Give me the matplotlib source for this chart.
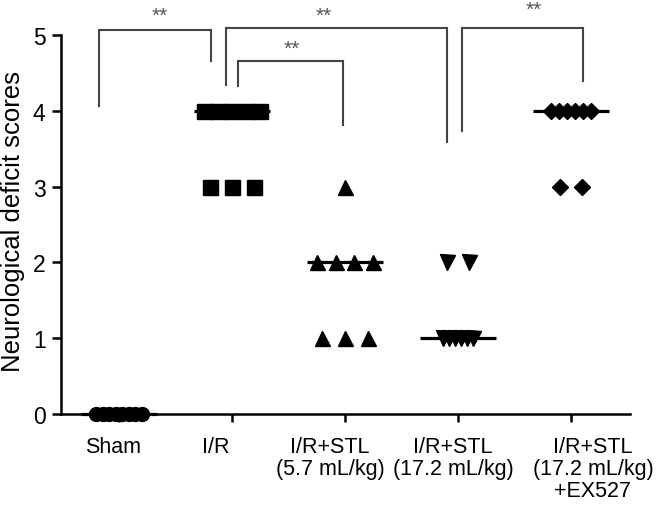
"""
Neurological deficit scores per treatment group, scatter with median bars
and significance brackets.
"""

import matplotlib

matplotlib.use("Agg")
import matplotlib.pyplot as plt
import matplotlib.transforms as mtransforms
import numpy as np

plt.rcParams["font.family"] = ["Liberation Sans", "DejaVu Sans"]

# ---- data (scores, n = 8 per group) ----
groups = [
    "Sham",
    "I/R",
    "I/R+STL\n(5.7 mL/kg)",
    "I/R+STL\n(17.2 mL/kg)",
    "I/R+STL\n(17.2 mL/kg)\n+EX527",
]
sham = [0, 0, 0, 0, 0, 0, 0, 0]
ir = [4, 4, 4, 4, 4, 3, 3, 3]
stl_low = [3, 2, 2, 2, 2, 1, 1, 1]
stl_high = [2, 2, 1, 1, 1, 1, 1, 1]
stl_high_ex527 = [4, 4, 4, 4, 4, 4, 3, 3]
scores = [sham, ir, stl_low, stl_high, stl_high_ex527]

# significance comparisons: (group a, group b, label)
comparisons = [(0, 1, "**"), (1, 3, "**"), (1, 2, "**"), (3, 4, "**")]

# ---- style / layout ----
markers = ["o", "s", "^", "v", "D"]
marker_sizes = [10.0, 10.8, 10.8, 10.8, 8.2]
# horizontal spread of tied points, in data units, per (group, score)
spread = {
    (0, 0): 0.40,
    (1, 4): 0.49, (1, 3): 0.39,
    (2, 2): 0.50, (2, 1): 0.40,
    (3, 2): 0.20, (3, 1): 0.27,
    (4, 4): 0.36, (4, 3): 0.19,
}
# bracket geometry: x of left/right legs, top y, bottom of each leg, star position
brackets = [
    (-0.18, 0.81, 5.07, 4.06, 4.66, 0.36, 5.26),
    (0.95, 2.90, 5.09, 4.34, 3.59, 1.81, 5.26),
    (1.05, 1.98, 4.66, 4.33, 3.81, 1.53, 4.83),
    (3.04, 4.11, 5.09, 3.74, 4.39, 3.67, 5.34),
]
label_shift_px = [-6, -16, -15, -5, 22]
median_half = 0.34

fig = plt.figure(figsize=(6.61, 5.10), dpi=100)
ax = fig.add_axes([0.093, 0.1863, 0.860, 0.7431])

for i, vals in enumerate(scores):
    vals = np.asarray(vals)
    xs = np.empty(len(vals))
    for level in np.unique(vals):
        idx = np.where(vals == level)[0]
        k = len(idx)
        w = spread.get((i, level), 0.0) if k > 1 else 0.0
        xs[idx] = i + np.linspace(-w / 2, w / 2, k)
    med = np.median(vals)
    ax.plot([i - median_half, i + median_half], [med, med], color="black",
            lw=2.3, solid_capstyle="butt", zorder=3, clip_on=False)
    ax.plot(xs, vals, linestyle="none", marker=markers[i],
            markersize=marker_sizes[i], color="black", mec="black",
            zorder=4, clip_on=False)

for (xl, xr, top, yl, yr, sx, sy), (_, _, text) in zip(brackets, comparisons):
    ax.plot([xl, xl, xr, xr], [yl, top, top, yr], color="#444444", lw=1.5,
            clip_on=False, zorder=2, solid_joinstyle="miter")
    ax.text(sx, sy, text, ha="center", va="center", fontsize=15,
            color="#555555", clip_on=False)

ax.set_xlim(-0.509, 4.522)
ax.set_ylim(0, 5)
ax.set_yticks(range(6))
ax.set_xticks(range(len(groups)))
ax.set_xticklabels(groups, fontsize=15.5, linespacing=1.05)
ax.tick_params(axis="y", labelsize=16.5, length=6.5, width=1.8, pad=5)
ax.tick_params(axis="x", length=6, width=1.8, pad=10)
for lab, dx in zip(ax.get_xticklabels(), label_shift_px):
    lab.set_transform(lab.get_transform()
                      + mtransforms.ScaledTranslation(dx / 100, 0, fig.dpi_scale_trans))

for side in ("top", "right"):
    ax.spines[side].set_visible(False)
for side in ("left", "bottom"):
    ax.spines[side].set_linewidth(1.8)

ax.set_ylabel("Neurological deficit scores", fontsize=18.5)
ax.yaxis.set_label_coords(-0.064, 0.51)

fig.savefig("out.png", dpi=100)
